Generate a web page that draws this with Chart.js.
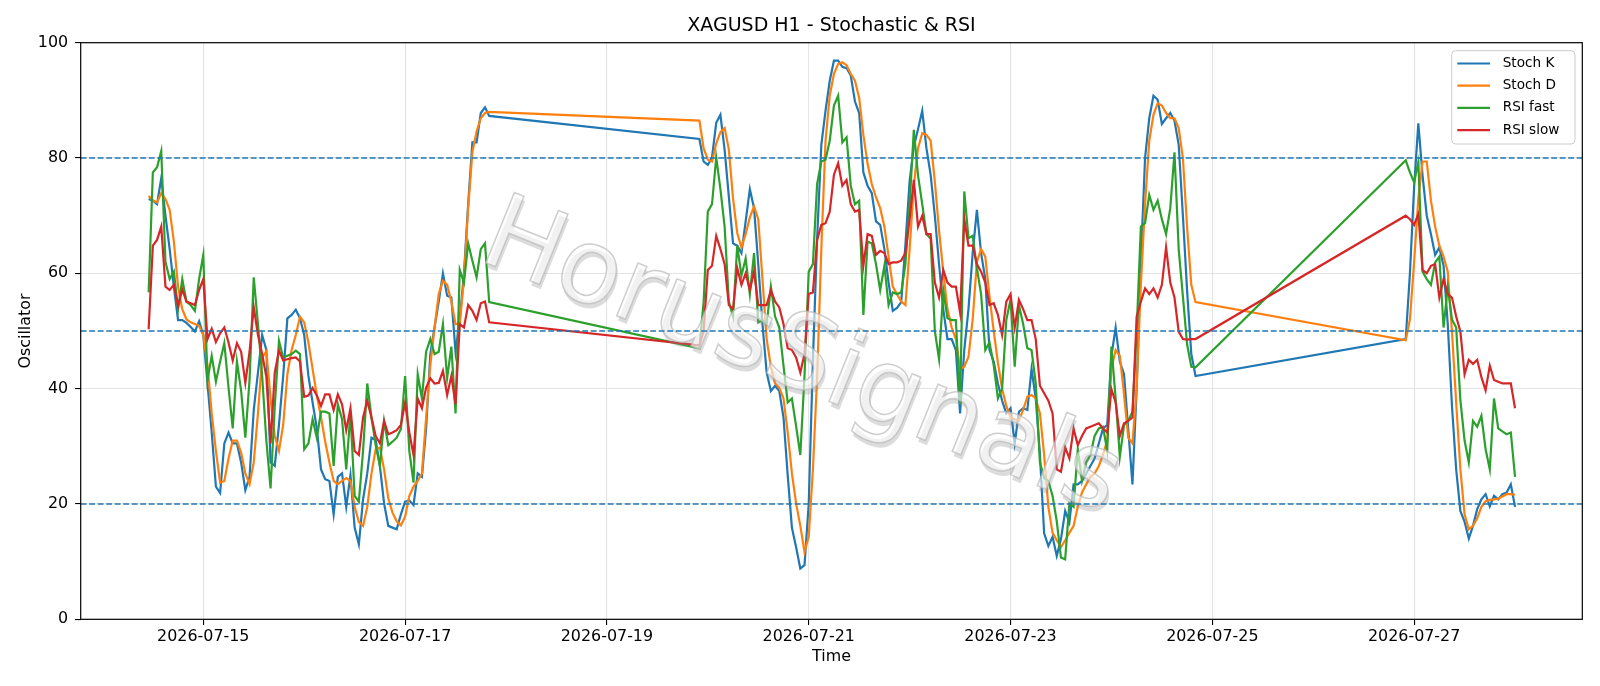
<!DOCTYPE html>
<html>
<head>
<meta charset="utf-8">
<title>XAGUSD H1 - Stochastic & RSI</title>
<script src="https://cdn.jsdelivr.net/npm/chart.js@4.4.1/dist/chart.umd.min.js"></script>
<style>
  html, body { margin: 0; padding: 0; background: #fff; }
  canvas { display: block; }
</style>
</head>
<body>
<canvas id="oscChart" width="1600" height="686"></canvas>
<script>
// time axis: hours counted from 2026-07-14 00:00, one H1 bar per hour inside each session
const sessions = [[11, 92], [142, 260], [310, 336]];
const dateTicks = [24, 72, 120, 168, 216, 264, 312];
const levels = [80, 50, 20];

const stochK = [
  72.9, 72.6, 72.0, 76.5, 70.0, 64.2, 57.7, 51.9, 51.9, 51.4,
  50.7, 49.9, 51.7, 49.3, 40.9, 32.4, 23.0, 21.9, 30.5, 32.4,
  30.5, 30.5, 27.2, 22.4, 24.7, 36.3, 42.8, 49.3, 46.7, 27.2,
  26.6, 33.7, 42.2, 52.2, 52.8, 53.7, 52.2, 49.3, 42.2, 37.6,
  33.1, 26.0, 24.3, 24.0, 18.2, 24.7, 25.3, 19.5, 25.0, 15.9,
  13.0, 20.8, 25.3, 31.5, 31.1, 26.6, 20.1, 16.2, 15.9, 15.6,
  18.2, 20.4, 20.6, 19.8, 25.3, 24.7, 33.1, 46.0, 50.6, 55.1,
  60.0, 56.1, 55.8, 46.4, 52.0, 60.0, 72.0, 82.7, 82.7, 87.8,
  88.8, 87.3,
  83.3, 79.4, 78.8, 80.1, 86.1, 87.5, 81.4, 73.3, 65.2, 64.8,
  63.5, 69.0, 74.6, 71.3, 61.6, 51.2, 42.8, 39.6, 40.5, 39.6,
  35.0, 25.0, 15.9, 12.5, 8.8, 9.4, 20.0, 45.0, 66.0, 82.3,
  88.2, 93.4, 96.9, 96.9, 95.8, 95.6, 94.3, 89.8, 87.8, 77.5,
  75.2, 73.9, 69.0, 68.4, 64.2, 58.4, 53.5, 54.0, 55.0, 65.0,
  76.0, 82.0, 85.0, 88.2, 81.7, 77.1, 70.0, 61.6, 53.8, 48.6,
  48.6, 46.7, 35.7, 46.7, 53.8, 63.5, 71.0, 63.5, 59.0, 46.7,
  44.7, 40.9, 37.9, 35.7, 36.6, 30.5, 36.0, 36.6, 36.3, 43.4,
  38.3, 28.5, 14.9, 12.7, 14.3, 11.0, 13.9, 18.8, 16.8, 23.4,
  23.4, 24.0, 25.3, 26.6, 27.9, 30.5, 33.1, 33.7, 45.7, 50.6,
  44.7, 42.5, 33.0, 23.4, 40.0, 62.0, 80.0, 86.9, 90.8, 90.1,
  85.9, 86.9, 87.8, 86.5, 82.3, 70.0, 57.0, 46.0, 42.2,
  48.6, 60.0, 75.0, 86.0, 77.0, 70.0, 66.8, 63.2, 64.5, 61.3,
  51.2, 37.0, 26.0, 18.8, 16.9, 14.0, 16.2, 19.1, 20.8, 21.7,
  19.6, 21.4, 20.8, 21.7, 22.0, 23.4, 19.5
];

const stochD = [
  73.4, 72.7, 72.3, 73.9, 72.9, 71.0, 65.5, 57.7, 53.8, 52.0,
  51.5, 51.2, 50.9, 49.3, 44.1, 35.7, 29.2, 23.7, 24.0, 27.9,
  31.0, 31.0, 28.9, 25.3, 23.4, 27.2, 35.7, 45.4, 46.5, 38.3,
  31.8, 29.2, 33.7, 42.5, 46.7, 49.3, 52.5, 51.5, 48.0, 43.4,
  38.9, 35.0, 30.8, 27.2, 24.0, 23.4, 24.0, 24.5, 24.0, 19.5,
  16.9, 16.2, 19.5, 25.3, 29.5, 29.8, 26.0, 21.0, 18.5, 17.0,
  16.3, 17.8, 21.4, 23.0, 24.0, 25.3, 35.0, 44.1, 50.6, 56.4,
  58.7, 58.0, 55.1, 51.2, 51.2, 59.0, 71.3, 81.0, 84.6, 86.9,
  87.8, 88.0,
  86.5, 81.7, 79.7, 79.4, 82.5, 84.5, 85.2, 81.5, 73.0, 67.0,
  64.5, 66.8, 69.7, 71.6, 69.4, 59.0, 48.6, 43.8, 40.9, 40.2,
  38.3, 32.4, 25.3, 20.1, 16.2, 11.7, 14.3, 26.0, 42.0, 64.2,
  83.0, 90.8, 94.6, 96.3, 96.6, 96.1, 94.6, 93.4, 90.4, 84.0,
  79.0, 75.5, 73.2, 71.3, 68.1, 62.9, 57.7, 56.4, 55.1, 54.5,
  64.2, 75.2, 81.7, 84.3, 84.0, 83.0, 75.9, 67.4, 60.3, 53.8,
  50.6, 48.6, 43.4, 43.8, 45.5, 52.0, 62.0, 64.2, 62.9, 56.0,
  50.0, 44.5, 40.0, 37.0, 35.0, 34.7, 34.5, 36.3, 38.6, 38.9,
  38.3, 35.7, 28.5, 19.5, 15.0, 13.7, 12.5, 13.7, 15.0, 16.2,
  19.5, 22.0, 23.4, 24.7, 25.3, 26.6, 28.5, 31.1, 43.5, 46.7,
  45.7, 39.0, 31.5, 30.5, 40.0, 58.0, 72.0, 83.0, 87.5, 89.5,
  89.1, 87.8, 86.9, 86.9, 85.2, 80.0, 68.0, 58.0, 55.0,
  48.4, 52.0, 62.0, 73.0, 79.4, 79.4, 72.6, 68.1, 64.8, 62.9,
  60.3, 49.9, 37.6, 26.0, 18.2, 15.6, 16.2, 17.5, 19.5, 20.5,
  20.7, 20.8, 20.9, 21.3, 21.7, 21.7, 21.6
];

const rsiFast = [
  56.7, 77.5, 78.4, 81.2, 62.0, 59.0, 60.3, 53.8, 59.0, 55.1,
  54.5, 53.5, 59.0, 63.2, 41.5, 45.7, 41.2, 44.7, 47.9, 40.2,
  33.1, 44.7, 39.6, 31.5, 41.5, 59.3, 51.2, 42.2, 31.0, 22.7,
  37.0, 48.3, 45.4, 45.7, 46.0, 46.6, 46.0, 29.5, 30.5, 34.7,
  31.5, 36.0, 36.0, 35.7, 26.6, 37.3, 34.7, 26.0, 35.7, 21.4,
  20.4, 29.2, 40.9, 35.0, 30.2, 26.6, 34.4, 30.2, 30.8, 31.5,
  33.0, 42.2, 29.2, 23.7, 42.5, 38.3, 46.4, 48.6, 46.0, 46.4,
  51.2, 41.8, 47.3, 35.7, 60.6, 58.4, 65.2, 62.2, 59.3, 64.2,
  65.2, 55.0,
  47.0, 55.0, 70.7, 72.0, 80.1, 74.6, 68.1, 55.1, 52.5, 64.8,
  59.6, 62.6, 56.4, 63.5, 51.5, 51.9, 51.2, 57.7, 52.5, 50.6,
  44.0, 37.6, 38.3, 33.5, 28.5, 42.2, 60.3, 61.6, 75.5, 79.4,
  79.7, 83.0, 89.1, 90.8, 82.7, 83.6, 75.2, 72.0, 72.6, 52.8,
  65.5, 65.2, 61.6, 57.1, 61.3, 54.5, 56.7, 56.4, 56.7, 61.6,
  72.0, 84.9, 77.0, 72.0, 66.8, 66.0, 50.0, 45.1, 57.1, 52.2,
  51.9, 51.9, 37.3, 74.2, 66.1, 66.5, 60.9, 56.4, 46.7, 48.0,
  44.1, 38.3, 40.0, 51.9, 55.5, 43.8, 54.5, 51.2, 47.0, 46.7,
  40.9, 27.2, 24.5, 24.0, 21.4, 17.0, 10.7, 10.4, 20.1, 19.5,
  29.5, 24.0, 27.2, 28.5, 31.8, 33.1, 33.4, 29.2, 47.3, 38.3,
  28.2, 33.7, 34.4, 36.0, 50.0, 68.1, 68.7, 73.6, 71.0, 72.6,
  69.4, 66.8, 71.3, 81.0, 64.2, 56.0, 47.7, 43.8, 43.7,
  79.6, 77.5, 75.8, 79.3, 60.3, 59.0, 58.0, 61.9, 62.9, 50.6,
  57.7, 52.0, 50.6, 38.0, 31.0, 27.2, 34.4, 33.4, 35.3, 29.5,
  26.0, 38.3, 33.1, 32.6, 32.1, 32.4, 24.7
];

const rsiSlow = [
  50.3, 64.8, 65.8, 68.1, 57.7, 57.1, 58.0, 54.3, 57.2, 55.1,
  54.8, 54.5, 57.1, 59.0, 48.6, 50.4, 48.1, 49.6, 50.6, 48.0,
  44.9, 47.9, 46.4, 41.0, 46.4, 54.1, 49.3, 46.0, 42.0, 30.5,
  42.8, 46.6, 44.9, 45.1, 45.3, 45.4, 44.7, 38.6, 38.8, 40.1,
  38.8, 37.0, 39.0, 39.0, 36.3, 39.0, 37.3, 32.8, 36.6, 29.2,
  28.5, 35.0, 37.9, 35.0, 31.8, 30.5, 34.4, 32.1, 32.4, 32.8,
  33.7, 37.6, 32.4, 28.5, 38.3, 36.6, 40.2, 41.8, 40.9, 41.0,
  43.1, 38.9, 42.2, 37.3, 51.2, 50.6, 54.5, 53.5, 51.9, 54.8,
  55.1, 51.5,
  47.5, 50.0, 60.6, 61.3, 66.5, 64.2, 61.6, 54.5, 53.8, 60.9,
  58.0, 60.0, 57.1, 60.3, 54.5, 54.5, 54.5, 57.1, 55.1, 54.1,
  51.2, 47.0, 46.7, 45.4, 42.8, 46.0, 56.4, 56.7, 65.8, 68.4,
  68.7, 70.7, 77.1, 79.1, 75.2, 76.2, 72.0, 70.7, 71.0, 61.3,
  66.8, 66.5, 63.2, 63.9, 63.5, 61.6, 61.9, 61.9, 62.2, 63.5,
  69.4, 76.2, 68.1, 70.0, 66.8, 66.8, 58.4, 55.8, 60.6, 58.4,
  57.7, 57.7, 53.2, 69.4, 64.8, 64.8, 61.6, 60.3, 58.4, 54.5,
  54.8, 52.8, 49.3, 55.1, 56.4, 50.6, 55.4, 53.8, 51.9, 51.9,
  48.6, 40.5, 39.2, 37.9, 35.7, 26.0, 25.6, 29.8, 27.9, 33.1,
  30.2, 31.8, 33.1, 33.4, 33.7, 34.0, 33.1, 32.4, 39.9, 37.6,
  31.8, 34.0, 34.4, 35.0, 52.5, 55.1, 57.4, 56.4, 57.4, 55.8,
  58.0, 64.5, 58.4, 55.8, 49.9, 48.6, 48.5, 48.6, 48.6,
  70.0, 69.4, 68.4, 70.3, 60.6, 60.0, 61.3, 61.6, 55.8, 59.0,
  56.4, 55.8, 52.5, 49.9, 42.5, 45.0, 44.3, 45.0, 42.0, 39.7,
  44.0, 41.5, 41.2, 40.9, 40.9, 40.9, 36.6
];

const hours = [];
sessions.forEach(([a, b]) => { for (let h = a; h <= b; h++) hours.push(h); });

const FONT = "'DejaVu Sans', 'Liberation Sans', sans-serif";

function fmtDate(h) {
    const d = new Date(Date.UTC(2026, 6, 14) + h * 3600000);
    return d.toISOString().slice(0, 10);
}

function series(label, values, color, order) {
    return {
        label: label,
        data: hours.map((h, i) => ({x: h, y: values[i]})),
        borderColor: color,
        backgroundColor: color,
        borderWidth: 2.2,
        pointRadius: 0,
        tension: 0,
        fill: false,
        order: order
    };
}

// title, watermark, reference levels, frame and legend box
const decorations = {
    id: 'decorations',
    afterDatasetsDraw(chart) {
        const {ctx, chartArea: a, scales: {y}} = chart;

        ctx.save();
        ctx.translate(801, 361);
        ctx.rotate(22 * Math.PI / 180);
        ctx.font = '104px ' + FONT;
        ctx.textAlign = 'center';
        ctx.textBaseline = 'middle';
        ctx.fillStyle = 'rgba(140,140,140,0.3)';
        ctx.fillText('HorusSignals', 3, 4);
        ctx.fillStyle = 'rgba(255,255,255,0.6)';
        ctx.fillText('HorusSignals', 0, 0);
        ctx.strokeStyle = 'rgba(185,185,185,0.7)';
        ctx.lineWidth = 1.5;
        ctx.strokeText('HorusSignals', 0, 0);
        ctx.restore();

        ctx.save();
        ctx.beginPath();
        ctx.rect(a.left, a.top, a.right - a.left, a.bottom - a.top);
        ctx.clip();
        ctx.strokeStyle = '#1f77b4';
        ctx.lineWidth = 1.6;
        ctx.setLineDash([5.9, 2.6]);
        levels.forEach(v => {
            const py = y.getPixelForValue(v);
            ctx.beginPath();
            ctx.moveTo(a.left, py);
            ctx.lineTo(a.right, py);
            ctx.stroke();
        });
        ctx.restore();
    },
    afterDraw(chart) {
        const {ctx, chartArea: a} = chart;
        ctx.save();
        ctx.strokeStyle = '#000';
        ctx.lineWidth = 1.2;
        ctx.strokeRect(a.left, a.top, a.right - a.left, a.bottom - a.top);

        ctx.fillStyle = '#000';
        ctx.font = '19px ' + FONT;
        ctx.textAlign = 'center';
        ctx.textBaseline = 'middle';
        ctx.fillText('XAGUSD H1 - Stochastic & RSI', (a.left + a.right) / 2, 26);

        // legend
        const bx = a.right - 130.6, by = a.top + 8, bw = 123.3, bh = 93.3;
        ctx.beginPath();
        ctx.roundRect(bx, by, bw, bh, 4);
        ctx.fillStyle = 'rgba(255,255,255,0.8)';
        ctx.fill();
        ctx.strokeStyle = '#cccccc';
        ctx.lineWidth = 1;
        ctx.stroke();
        ctx.font = '13.6px ' + FONT;
        ctx.textAlign = 'left';
        chart.data.datasets.forEach((ds, i) => {
            const ry = by + 12.8 + i * 22.2;
            ctx.strokeStyle = ds.borderColor;
            ctx.lineWidth = 2.2;
            ctx.beginPath();
            ctx.moveTo(bx + 5.6, ry);
            ctx.lineTo(bx + 38.3, ry);
            ctx.stroke();
            ctx.fillStyle = '#000';
            ctx.fillText(ds.label, bx + 51, ry);
        });
        ctx.restore();
    }
};

new Chart(document.getElementById('oscChart'), {
    type: 'line',
    data: {
        datasets: [
            series('Stoch K', stochK, '#1f77b4', 4),
            series('Stoch D', stochD, '#ff7f0e', 3),
            series('RSI fast', rsiFast, '#2ca02c', 2),
            series('RSI slow', rsiSlow, '#d62728', 1)
        ]
    },
    options: {
        responsive: false,
        devicePixelRatio: 1,
        animation: false,
        layout: { padding: { top: 42.7, right: 17.7, bottom: 0, left: 0 } },
        plugins: {
            legend: { display: false },
            tooltip: { enabled: false },
            title: { display: false }
        },
        scales: {
            x: {
                type: 'linear',
                min: -5.16,
                max: 352.0,
                afterBuildTicks: s => { s.ticks = dateTicks.map(v => ({value: v})); },
                afterFit: s => { s.height = 66.7; },
                ticks: {
                    callback: v => fmtDate(v),
                    autoSkip: false,
                    maxRotation: 0,
                    padding: 2,
                    color: '#000',
                    font: { family: FONT, size: 15.9 }
                },
                grid: { color: '#e4e4e4', lineWidth: 1.1, tickColor: '#000', tickLength: 5.6, tickWidth: 1.1 },
                border: { display: false },
                title: {
                    display: true,
                    text: 'Time',
                    color: '#000',
                    font: { family: FONT, size: 15.9 },
                    padding: { top: 0, bottom: 20 }
                }
            },
            y: {
                min: 0,
                max: 100,
                afterFit: s => { s.width = 80.7; },
                ticks: {
                    stepSize: 20,
                    padding: 7,
                    color: '#000',
                    font: { family: FONT, size: 15.9 }
                },
                grid: { color: '#e4e4e4', lineWidth: 1.1, tickColor: '#000', tickLength: 5.6, tickWidth: 1.1 },
                border: { display: false },
                title: {
                    display: true,
                    text: 'Oscillator',
                    color: '#000',
                    font: { family: FONT, size: 15.9 },
                    padding: { top: 16, bottom: 0 }
                }
            }
        }
    },
    plugins: [decorations]
});
</script>
</body>
</html>
